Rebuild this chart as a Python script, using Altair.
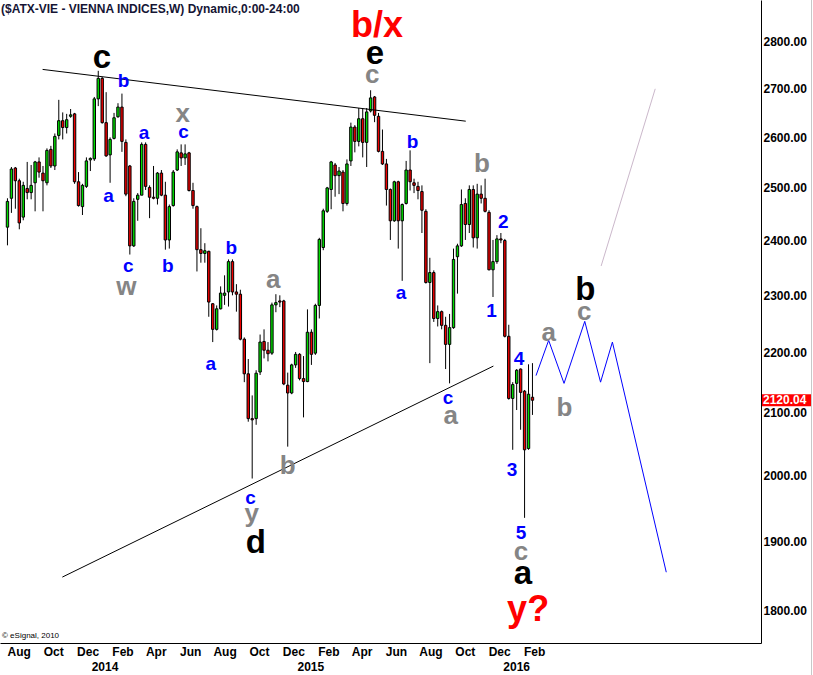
import altair as alt
import numpy as np
import pandas as pd

# Weekly ATX candles (open, high, low, close), first week starting 2013-07-12
opens = [2425, 2480, 2539, 2514, 2444, 2499, 2491, 2510, 2551, 2529,
         2510, 2576, 2543, 2604, 2634, 2620, 2643, 2648, 2512, 2464,
         2503, 2555, 2557, 2679, 2722, 2630, 2565, 2598, 2642, 2662,
         2590, 2543, 2390, 2478, 2486, 2586, 2501, 2482, 2480, 2529,
         2486, 2401, 2466, 2535, 2569, 2559, 2569, 2495, 2464, 2383,
         2376, 2380, 2285, 2240, 2276, 2300, 2306, 2361, 2306, 2302,
         2223, 2164, 2090, 2090, 2167, 2219, 2204, 2199, 2283, 2290,
         2290, 2145, 2132, 2179, 2197, 2156, 2151, 2235, 2199, 2282,
         2387, 2455, 2497, 2545, 2524, 2531, 2470, 2553, 2621, 2592,
         2638, 2590, 2654, 2683, 2643, 2572, 2547, 2497, 2437, 2512,
         2437, 2470, 2535, 2510, 2503, 2493, 2455, 2323, 2341, 2259,
         2271, 2247, 2214, 2243, 2370, 2390, 2470, 2430, 2497, 2405,
         2488, 2480, 2453, 2346, 2361, 2403, 2400, 2228, 2123, 2148,
         2172, 2135, 2042, 2125]
highs = [2480, 2541, 2541, 2518, 2512, 2551, 2545, 2553, 2560, 2543,
         2578, 2583, 2608, 2677, 2651, 2648, 2658, 2650, 2531, 2508,
         2560, 2560, 2683, 2738, 2725, 2693, 2600, 2650, 2670, 2690,
         2596, 2545, 2480, 2490, 2590, 2590, 2505, 2543, 2531, 2535,
         2512, 2468, 2535, 2576, 2586, 2586, 2571, 2510, 2466, 2423,
         2395, 2381, 2286, 2282, 2316, 2336, 2365, 2365, 2320, 2310,
         2226, 2189, 2128, 2170, 2231, 2240, 2218, 2287, 2302, 2300,
         2292, 2166, 2181, 2201, 2199, 2194, 2275, 2240, 2285, 2405,
         2460, 2502, 2553, 2549, 2541, 2535, 2556, 2630, 2625, 2660,
         2660, 2660, 2697, 2685, 2650, 2616, 2557, 2499, 2514, 2514,
         2470, 2553, 2574, 2518, 2512, 2505, 2459, 2368, 2345, 2282,
         2273, 2262, 2267, 2385, 2394, 2497, 2480, 2505, 2505, 2508,
         2505, 2518, 2457, 2401, 2410, 2414, 2403, 2248, 2150, 2172,
         2173, 2137, 2180, 2182]
lows = [2391, 2452, 2460, 2421, 2438, 2478, 2478, 2455, 2520, 2455,
        2505, 2539, 2535, 2596, 2596, 2608, 2640, 2508, 2464, 2448,
        2500, 2533, 2553, 2664, 2628, 2561, 2510, 2596, 2640, 2571,
        2484, 2374, 2388, 2437, 2486, 2496, 2442, 2478, 2468, 2484,
        2383, 2385, 2464, 2533, 2543, 2545, 2493, 2460, 2343, 2359,
        2359, 2262, 2218, 2238, 2275, 2283, 2280, 2300, 2271, 2221,
        2150, 2085, 1995, 2080, 2162, 2190, 2185, 2196, 2270, 2279,
        2145, 2045, 2130, 2174, 2153, 2092, 2150, 2179, 2196, 2259,
        2382, 2452, 2459, 2483, 2488, 2455, 2466, 2543, 2570, 2582,
        2560, 2541, 2651, 2631, 2570, 2545, 2466, 2401, 2435, 2385,
        2326, 2468, 2495, 2490, 2478, 2414, 2321, 2182, 2253, 2245,
        2240, 2172, 2148, 2241, 2303, 2388, 2401, 2414, 2387, 2385,
        2470, 2453, 2345, 2297, 2357, 2395, 2226, 2121, 2040, 2104,
        2072, 1935, 2040, 2096]
closes = [2474, 2537, 2514, 2433, 2505, 2491, 2505, 2551, 2531, 2514,
          2574, 2543, 2602, 2634, 2620, 2636, 2646, 2512, 2466, 2505,
          2553, 2558, 2679, 2722, 2630, 2563, 2596, 2640, 2662, 2592,
          2488, 2390, 2474, 2486, 2586, 2503, 2482, 2480, 2529, 2486,
          2401, 2464, 2531, 2571, 2559, 2567, 2495, 2466, 2383, 2376,
          2381, 2288, 2240, 2276, 2304, 2304, 2361, 2306, 2302, 2223,
          2164, 2090, 2088, 2165, 2218, 2204, 2198, 2283, 2287, 2288,
          2147, 2132, 2179, 2197, 2156, 2151, 2235, 2197, 2282, 2402,
          2456, 2500, 2551, 2524, 2533, 2470, 2547, 2621, 2592, 2638,
          2590, 2652, 2681, 2645, 2572, 2547, 2497, 2437, 2512, 2437,
          2468, 2535, 2512, 2505, 2495, 2457, 2323, 2341, 2259, 2271,
          2247, 2214, 2243, 2365, 2390, 2468, 2430, 2497, 2405, 2488,
          2480, 2455, 2346, 2361, 2403, 2401, 2228, 2123, 2146, 2170,
          2133, 2040, 2130, 2120.04]

last_price = 2120.04

# Hand-drawn trend lines and the projected path (week index, price)
upper_line_weeks = [8.9, 116.1]
upper_line_prices = [2741, 2633]
lower_line_weeks = [13.9, 123.1]
lower_line_prices = [1848, 2177]
path_weeks = [133.9, 137.1, 141.0, 146.25, 150.25, 153.25, 166.9]
path_prices = [2161, 2221, 2148, 2254, 2150, 2218, 1855]
target_weeks = [150.4, 164.1]
target_prices = [2353, 2700]

# Wave labels: text, week index, price, style
wave_text = ["c", "b", "a", "x", "c", "a", "c", "w", "b", "b",
             "a", "a", "b", "c", "y", "d", "b/x", "e", "c", "b",
             "a", "b", "2", "1", "c", "a", "4", "3", "5", "c",
             "a", "y?", "a", "b", "c", "b"]
wave_weeks = [23.9, 29.4, 34.6, 44.4, 44.6, 25.6, 30.6, 30.1, 40.6, 56.7,
              51.5, 67.3, 71.0, 61.6, 61.9, 62.9, 93.6, 93.1, 92.4, 102.6,
              99.7, 120.2, 125.6, 122.6, 111.6, 112.3, 129.6, 127.8, 130.1, 130.1,
              130.6, 131.9, 137.1, 141.1, 146.1, 146.4]
wave_prices = [2765, 2717, 2609, 2648, 2611, 2484, 2353, 2315, 2353, 2386,
               2181, 2328, 2015, 1965, 1941, 1898, 2835, 2774, 2729, 2591,
               2304, 2547, 2435, 2272, 2124, 2094, 2189, 2008, 1912, 1885,
               1853, 1802, 2234, 2108, 2271, 2310]
wave_style = ["black", "blue", "blue", "gray", "blue", "blue", "blue", "gray", "blue", "blue",
              "blue", "gray", "gray", "blue", "gray", "black", "red", "black", "gray", "blue",
              "blue", "gray", "blue", "blue", "blue", "gray", "blue", "blue", "blue", "gray",
              "black", "red", "gray", "gray", "gray", "black"]

month_ticks = [(2013, 8), (2013, 10), (2013, 12), (2014, 2), (2014, 4), (2014, 6),
               (2014, 8), (2014, 10), (2014, 12), (2015, 2), (2015, 4), (2015, 6),
               (2015, 8), (2015, 10), (2015, 12), (2016, 2)]
year_labels = ["2014", "2015", "2016"]
year_dates = ["2014-01-01", "2015-01-01", "2016-01-01"]
price_ticks = [1800, 1900, 2000, 2100, 2200, 2300, 2400, 2500, 2600, 2700, 2800]

FONT = "Liberation Sans"
UP, DOWN = "#00dd00", "#ee0000"
STYLES = {"blue": ("#0000ff", 19), "gray": ("#858585", 26),
          "black": ("#000000", 33), "red": ("#ff0000", 36)}

base = pd.Timestamp("2013-07-12")


def week_date(w):
    return base + pd.to_timedelta(np.asarray(w, dtype=float) * 7, unit="D")


n = len(closes)
candles = pd.DataFrame({
    "date": week_date(np.arange(n)),
    "open": opens, "high": highs, "low": lows, "close": closes,
})
candles["dir"] = np.where(candles["close"] >= candles["open"], "up", "down")

lines = pd.concat([
    pd.DataFrame({"seg": "upper", "date": week_date(upper_line_weeks), "price": upper_line_prices}),
    pd.DataFrame({"seg": "lower", "date": week_date(lower_line_weeks), "price": lower_line_prices}),
])
path = pd.DataFrame({"date": week_date(path_weeks), "price": path_prices})
target = pd.DataFrame({"date": week_date(target_weeks), "price": target_prices})

labels = pd.DataFrame({
    "text": wave_text,
    "date": week_date(wave_weeks),
    "price": wave_prices,
    "color": [STYLES[s][0] for s in wave_style],
    "size": [STYLES[s][1] for s in wave_style],
})
years = pd.DataFrame({"text": year_labels, "date": pd.to_datetime(year_dates)})
tag = pd.DataFrame({"price": [last_price], "text": [f"{last_price:.2f}"]})

x_scale = alt.Scale(domain=[alt.DateTime(year=2013, month=7, date=7, hours=15),
                            alt.DateTime(year=2017, month=2, date=28, hours=10)])
y_scale = alt.Scale(type="log", domain=[1755.8, 2892.8], nice=False, zero=False)

x_axis = alt.Axis(values=[alt.DateTime(year=y, month=m, date=1) for y, m in month_ticks],
                  format="%b", title=None, ticks=False, grid=False, labelFlush=False,
                  labelOverlap=False, labelFont=FONT, labelFontSize=12, labelFontWeight="bold",
                  labelColor="black", labelPadding=3, domainColor="black", domainWidth=1)
y_axis = alt.Axis(orient="right", values=price_ticks, format=".2f", title=None, ticks=False,
                  grid=False, labelFont=FONT, labelFontSize=12, labelFontWeight="bold",
                  labelColor="black", labelPadding=2, domainColor="black", domainWidth=1)

X = alt.X("date:T", scale=x_scale, axis=x_axis)

wicks = alt.Chart(candles).mark_rule(color="black", strokeWidth=1).encode(
    x=X,
    y=alt.Y("low:Q", scale=y_scale, axis=y_axis),
    y2="high:Q",
)
bodies = alt.Chart(candles).mark_bar(width=2.4, stroke="black", strokeWidth=1).encode(
    x=alt.X("date:T", scale=x_scale),
    y=alt.Y("open:Q", scale=y_scale),
    y2="close:Q",
    color=alt.Color("dir:N", scale=alt.Scale(domain=["up", "down"], range=[UP, DOWN]), legend=None),
)
trend = alt.Chart(lines).mark_line(color="black", strokeWidth=1).encode(
    x=alt.X("date:T", scale=x_scale),
    y=alt.Y("price:Q", scale=y_scale),
    detail="seg:N",
)
projection = alt.Chart(path).mark_line(color="#0000ff", strokeWidth=1).encode(
    x=alt.X("date:T", scale=x_scale),
    y=alt.Y("price:Q", scale=y_scale),
)
target_line = alt.Chart(target).mark_line(color="#cbb8cb", strokeWidth=1).encode(
    x=alt.X("date:T", scale=x_scale),
    y=alt.Y("price:Q", scale=y_scale),
)
wave_labels = alt.Chart(labels).mark_text(font=FONT, fontWeight="bold", baseline="middle",
                                          align="center").encode(
    x=alt.X("date:T", scale=x_scale),
    y=alt.Y("price:Q", scale=y_scale),
    text="text:N",
    color=alt.Color("color:N", scale=None),
    size=alt.Size("size:Q", scale=None),
)
year_text = alt.Chart(years).mark_text(font=FONT, fontWeight="bold", fontSize=12,
                                       baseline="middle", color="black").encode(
    x=alt.X("date:T", scale=x_scale),
    y=alt.value(667),
    text="text:N",
)
tag_box = alt.Chart(tag).mark_rect(color="#ff0000", yOffset=-6, y2Offset=6).encode(
    x=alt.value(762), x2=alt.value(811),
    y=alt.Y("price:Q", scale=y_scale), y2="price:Q",
)
tag_text = alt.Chart(tag).mark_text(font=FONT, fontWeight="bold", fontSize=12, color="white",
                                    align="left", baseline="middle").encode(
    x=alt.value(763),
    y=alt.Y("price:Q", scale=y_scale),
    text="text:N",
)
title_text = alt.Chart(tag).mark_text(
    text="($ATX-VIE - VIENNA INDICES,W) Dynamic,0:00-24:00", font=FONT, fontWeight="bold",
    fontSize=12, color="#151535", align="left", baseline="middle",
).encode(x=alt.value(1), y=alt.value(9))
credit_text = alt.Chart(tag).mark_text(
    text="\u00a9 eSignal, 2010", font=FONT, fontSize=8, color="black",
    align="left", baseline="middle",
).encode(x=alt.value(2), y=alt.value(636))
edge = alt.Chart(tag).mark_rule(color="#c8c8c8", strokeWidth=1).encode(
    x=alt.value(811.5), y=alt.value(0), y2=alt.value(675),
)

chart = alt.layer(
    wicks, bodies, trend, target_line, projection, wave_labels, year_text,
    tag_box, tag_text, title_text, credit_text, edge,
).properties(
    width=761, height=643,
    autosize=alt.AutoSizeParams(type="none"),
    padding={"left": 0, "top": 0, "right": 52, "bottom": 32},
    background="white",
).configure_view(stroke=None)

chart.save("out.html", embed_options={"renderer": "svg", "actions": False})
